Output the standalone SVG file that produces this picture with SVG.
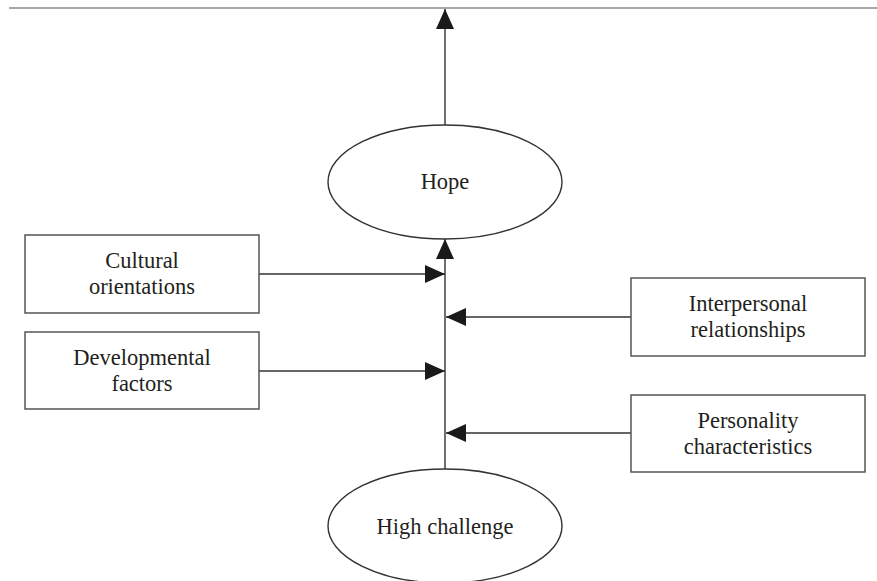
<svg xmlns="http://www.w3.org/2000/svg" width="877" height="581" viewBox="0 0 877 581">
<style>
.box{fill:#fff;stroke:#555;stroke-width:1.5}
.ell{fill:#fff;stroke:#333;stroke-width:1.4}
.ln{stroke:#333;stroke-width:1.4;fill:none}
text{font-family:"Liberation Serif","Times New Roman",serif;font-size:22.5px;fill:#231f20;text-anchor:middle}
</style>
<defs>
<marker id="ah" markerUnits="userSpaceOnUse" markerWidth="22" markerHeight="20" refX="20" refY="9" orient="auto">
<path d="M0,0 L20,9 L0,18 Z" fill="#1a1a1a"/>
</marker>
</defs>
<rect width="877" height="581" fill="#fff"/>
<line x1="9" y1="8" x2="877" y2="8" stroke="#888" stroke-width="1.3"/>
<g id="connectors">
<line class="ln" x1="445" y1="125" x2="445" y2="9" marker-end="url(#ah)"/>
<line class="ln" x1="445" y1="470" x2="445" y2="239" marker-end="url(#ah)"/>
<line class="ln" x1="259" y1="274" x2="445" y2="274" marker-end="url(#ah)"/>
<line class="ln" x1="259" y1="371" x2="445" y2="371" marker-end="url(#ah)"/>
<line class="ln" x1="631" y1="317" x2="446" y2="317" marker-end="url(#ah)"/>
<line class="ln" x1="631" y1="433" x2="446" y2="433" marker-end="url(#ah)"/>
</g>
<g id="hope">
<ellipse class="ell" cx="445" cy="182" rx="117" ry="57"/>
<text x="445" y="189">Hope</text>
</g>
<g id="high-challenge">
<ellipse class="ell" cx="445" cy="526" rx="117" ry="57"/>
<text x="445" y="534">High challenge</text>
</g>
<g id="cultural">
<rect class="box" x="25" y="235" width="234" height="78"/>
<text x="142" y="268">Cultural</text>
<text x="142" y="294">orientations</text>
</g>
<g id="developmental">
<rect class="box" x="25" y="332" width="234" height="77"/>
<text x="142" y="365">Developmental</text>
<text x="142" y="391">factors</text>
</g>
<g id="interpersonal">
<rect class="box" x="631" y="278" width="234" height="78"/>
<text x="748" y="311">Interpersonal</text>
<text x="748" y="337">relationships</text>
</g>
<g id="personality">
<rect class="box" x="631" y="395" width="234" height="77"/>
<text x="748" y="428">Personality</text>
<text x="748" y="454">characteristics</text>
</g>
</svg>
